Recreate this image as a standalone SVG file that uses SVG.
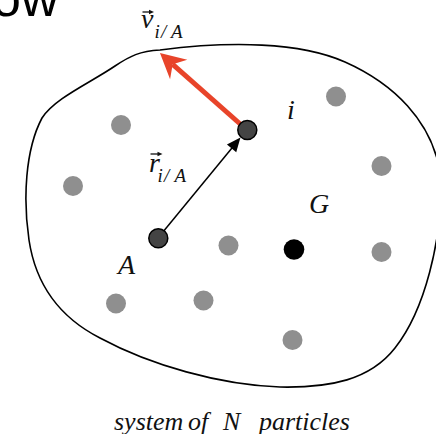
<svg xmlns="http://www.w3.org/2000/svg" width="436" height="434" viewBox="0 0 436 434">
<style>
.lbl{font-family:"Liberation Serif","Times New Roman",serif;font-style:italic;fill:#111}
.big{font-size:28px}
.sub{font-size:19px}
.gray{fill:#8f8f8f}
.dark{fill:#444;stroke:#000;stroke-width:1.5}
.blob{fill:none;stroke:#000;stroke-width:1.6}
</style>
<defs>
<marker id="redHead" markerUnits="userSpaceOnUse" markerWidth="30" markerHeight="30" orient="auto" refX="0" refY="0" overflow="visible">
<path d="M17,0 L-8,-13 L0,0 L-8,13 Z" fill="#e8442a"/>
</marker>
<marker id="blackHead" markerUnits="userSpaceOnUse" markerWidth="20" markerHeight="20" orient="auto" refX="0" refY="0" overflow="visible">
<path d="M5,0 L-9,-6 L-9,6 Z" fill="#000"/>
</marker>
<marker id="vecHead" markerUnits="userSpaceOnUse" markerWidth="8" markerHeight="8" orient="auto" refX="0" refY="0" overflow="visible">
<path d="M3,0 L-2,-2.3 L-2,2.3 Z" fill="#111"/>
</marker>
</defs>
<rect width="436" height="434" fill="#fff"/>
<text x="-8" y="16" font-family="'Liberation Sans',Arial,sans-serif" font-size="52" fill="#000">ow</text>
<g id="system-boundary">
<path class="blob" d="M160 50 C230 41,300 42,345 62 C390 82,435 120,441 180 C442 240,425 310,395 348 C370 380,330 388,280 387 C220 385,150 365,100 338 C55 315,35 280,29 240 C23 200,25 150,42 118 C55 98,90 83,115 66 C130 56,140 51,160 50 Z"/>
</g>
<g id="connectors">
<line x1="158" y1="238" x2="237.3" y2="141.4" stroke="#000" stroke-width="1.5" marker-end="url(#blackHead)"/>
<line x1="247" y1="130" x2="172.7" y2="64.3" stroke="#e8442a" stroke-width="5" marker-end="url(#redHead)"/>
</g>
<g id="particles">
<circle class="gray" cx="336" cy="96.5" r="10"/>
<circle class="gray" cx="121" cy="125" r="10"/>
<circle class="gray" cx="381.5" cy="166" r="10"/>
<circle class="gray" cx="73" cy="186" r="10"/>
<circle class="gray" cx="228.5" cy="245.5" r="10"/>
<circle class="gray" cx="381.5" cy="252" r="10"/>
<circle class="gray" cx="116" cy="303.5" r="10"/>
<circle class="gray" cx="203.5" cy="300.5" r="10"/>
<circle class="gray" cx="292.5" cy="340" r="10"/>
</g>
<g id="node-G">
<circle cx="294" cy="249.5" r="10.3" fill="#000"/>
<text class="lbl big" x="309" y="212.5">G</text>
</g>
<g id="node-i">
<circle class="dark" cx="247.3" cy="130" r="9.5"/>
<text class="lbl big" x="287" y="119">i</text>
</g>
<g id="node-A">
<circle class="dark" cx="158.3" cy="238.3" r="9.5"/>
<text class="lbl big" x="118" y="274">A</text>
</g>
<g id="label-v">
<line x1="142.5" y1="12" x2="151" y2="12" stroke="#111" stroke-width="1.3" marker-end="url(#vecHead)"/>
<text class="lbl big" x="141" y="28">v</text>
<text class="lbl sub" y="38"><tspan x="154.5">i</tspan><tspan x="161">/</tspan><tspan x="171">A</tspan></text>
</g>
<g id="label-r">
<line x1="150.5" y1="154" x2="159.5" y2="154" stroke="#111" stroke-width="1.3" marker-end="url(#vecHead)"/>
<text class="lbl big" x="149" y="171.5">r</text>
<text class="lbl sub" y="182"><tspan x="157.5">i</tspan><tspan x="164">/</tspan><tspan x="174.5">A</tspan></text>
</g>
<g id="caption">
<text class="lbl" font-size="26" y="430"><tspan x="114">system</tspan><tspan x="188">of</tspan><tspan x="223">N</tspan><tspan x="259">particles</tspan></text>
</g>
</svg>
